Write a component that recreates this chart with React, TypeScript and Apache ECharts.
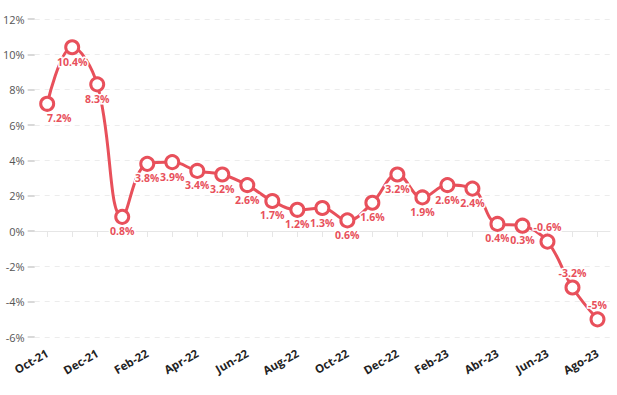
import React, { useEffect, useRef } from "react";
import * as echarts from "echarts";

const categories = [
  "Oct-21", "Nov-21", "Dec-21", "Jan-22", "Feb-22", "Mar-22", "Apr-22", "May-22",
  "Jun-22", "Jul-22", "Aug-22", "Sep-22", "Oct-22", "Nov-22", "Dec-22", "Jan-23",
  "Feb-23", "Mar-23", "Abr-23", "May-23", "Jun-23", "Jul-23", "Ago-23",
];
const values = [
  7.2, 10.4, 8.3, 0.8, 3.8, 3.9, 3.4, 3.2, 2.6, 1.7, 1.2, 1.3, 0.6, 1.6, 3.2, 1.9,
  2.6, 2.4, 0.4, 0.3, -0.6, -3.2, -5,
];
const yTicks = { min: -6, max: 12, interval: 2 };

const RED = "#E8505B";

export default function App() {
  const ref = useRef<HTMLDivElement>(null);
  useEffect(() => {
    document.body.style.margin = "0";
    const chart = echarts.init(ref.current!, null, { renderer: "svg" });
    const data = values.map((v, i) => {
      const item: any = { value: v };
      if (v < 0) {
        item.label = { position: "top" };
      } else if (i === 0) {
        item.label = { position: "bottom", offset: [12, 0] };
      }
      return item;
    });
    chart.setOption({
      animation: false,
      grid: { left: 33, right: 7, top: 19, bottom: 58, containLabel: false },
      xAxis: {
        type: "category",
        data: categories,
        boundaryGap: true,
        axisLine: { show: true, lineStyle: { color: "#e6e6e6", width: 1 } },
        axisTick: { show: true, alignWithLabel: true, interval: 0, length: 6, lineStyle: { color: "#e6e6e6" } },
        axisLabel: {
          interval: 1,
          rotate: 30,
          margin: 15,
          color: "#222",
          fontFamily: "Open Sans",
          fontWeight: "bold",
          fontSize: 11.5,
        },
      },
      yAxis: {
        type: "value",
        min: yTicks.min,
        max: yTicks.max,
        interval: yTicks.interval,
        axisLine: { show: false },
        axisTick: { show: true, length: 7, lineStyle: { color: "#d9d9d9", width: 2 } },
        axisLabel: {
          formatter: "{value}%",
          color: "#555",
          fontFamily: "Open Sans",
          fontSize: 11,
          margin: 10,
        },
        splitLine: { show: true, lineStyle: { color: "#ececec", type: [5, 5], width: 1 } },
      },
      series: [
        {
          type: "line",
          data,
          smooth: 0.4,
          symbol: "circle",
          symbolSize: 13,
          lineStyle: { color: RED, width: 3 },
          itemStyle: { color: "#fff", borderColor: RED, borderWidth: 3 },
          label: {
            show: true,
            position: "bottom",
            distance: 1,
            formatter: (p: any) => `${p.value}%`,
            color: RED,
            fontFamily: "Open Sans",
            fontWeight: "bold",
            fontSize: 10.5,
            textBorderColor: "#fff",
            textBorderWidth: 3,
          },
          z: 3,
        },
      ],
    });
    return () => chart.dispose();
  }, []);
  return <div ref={ref} style={{ width: 617, height: 395 }} />;
}
